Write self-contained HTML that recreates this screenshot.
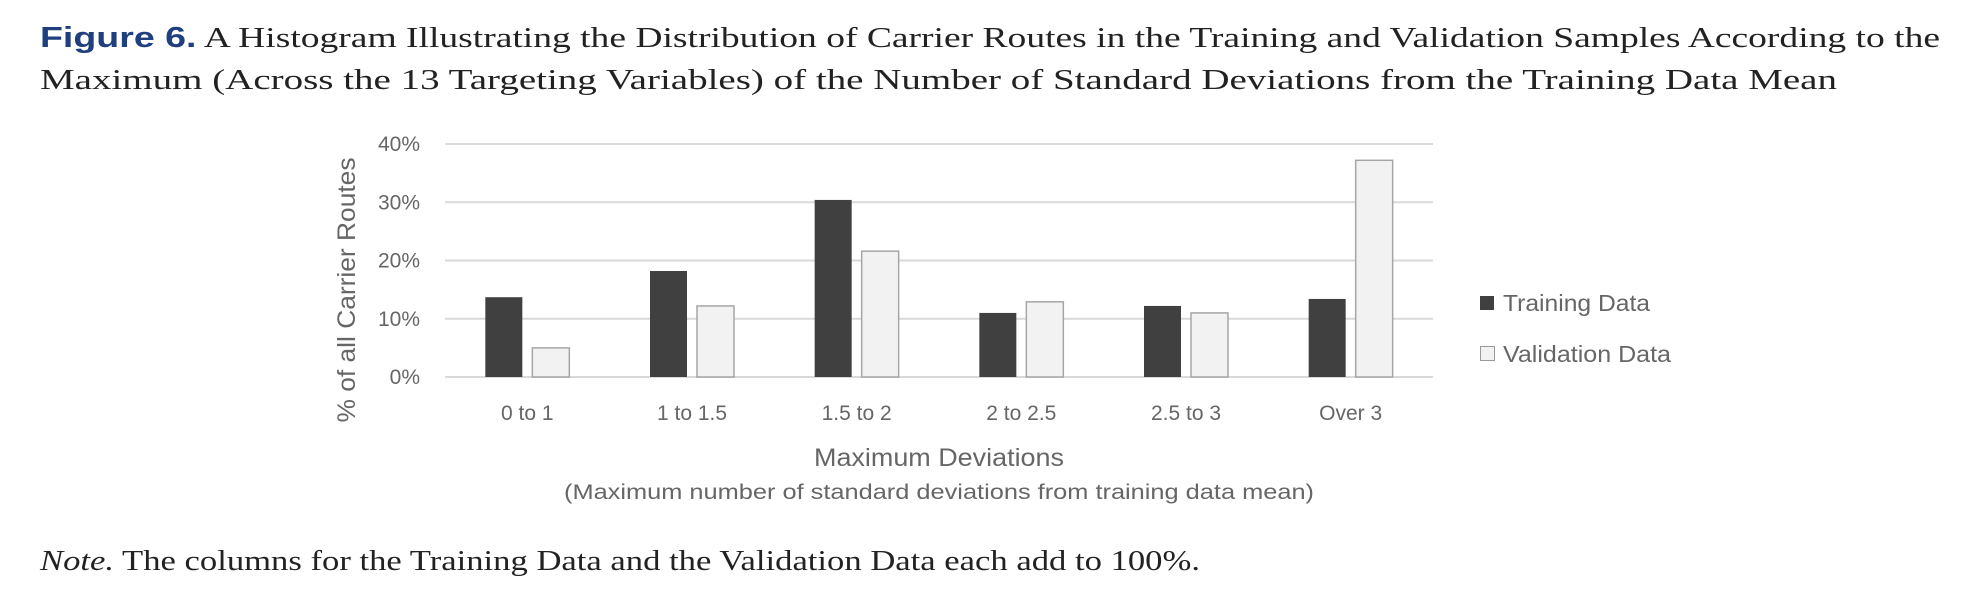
<!DOCTYPE html>
<html><head><meta charset="utf-8"><style>
html,body{margin:0;padding:0;background:#fff;}
svg{display:block;}
</style></head><body>
<svg id="fig" width="1976" height="592" xmlns="http://www.w3.org/2000/svg">
<g>
<text x="40" y="47" font-family="Liberation Serif, serif" font-size="29" fill="#222" textLength="1900" lengthAdjust="spacingAndGlyphs"><tspan font-family="Liberation Sans, sans-serif" font-weight="bold" fill="#1f3f7f">Figure 6.</tspan>  A Histogram Illustrating the Distribution of Carrier Routes in the Training and Validation Samples According to the</text>
<text x="40" y="89" font-family="Liberation Serif, serif" font-size="29" fill="#222" textLength="1797" lengthAdjust="spacingAndGlyphs">Maximum (Across the 13 Targeting Variables) of the Number of Standard Deviations from the Training Data Mean</text>
</g>
<g id="grid"></g>
<g id="yticks"></g>
<g id="bars"></g>
<g id="xticks"></g>
<text transform="translate(355,290) rotate(-90)" text-anchor="middle" font-family="Liberation Sans, sans-serif" font-size="25" fill="#666" textLength="265" lengthAdjust="spacingAndGlyphs">% of all Carrier Routes</text>
<text x="939" y="466" text-anchor="middle" font-family="Liberation Sans, sans-serif" font-size="25" fill="#666" textLength="250" lengthAdjust="spacingAndGlyphs">Maximum Deviations</text>
<text x="939" y="499" text-anchor="middle" font-family="Liberation Sans, sans-serif" font-size="21" fill="#666" textLength="750" lengthAdjust="spacingAndGlyphs">(Maximum number of standard deviations from training data mean)</text>
<g>
<rect x="1480" y="296" width="14" height="14" fill="#404040"/>
<text x="1503" y="311" font-family="Liberation Sans, sans-serif" font-size="23" fill="#666" textLength="147" lengthAdjust="spacingAndGlyphs">Training Data</text>
<rect x="1480.5" y="346.5" width="14" height="14" fill="#f2f2f2" stroke="#999" stroke-width="1"/>
<text x="1503" y="362" font-family="Liberation Sans, sans-serif" font-size="23" fill="#666" textLength="168" lengthAdjust="spacingAndGlyphs">Validation Data</text>
</g>
<text x="40" y="570" font-family="Liberation Serif, serif" font-size="28" fill="#222" textLength="1160" lengthAdjust="spacingAndGlyphs"><tspan font-style="italic">Note.</tspan> The columns for the Training Data and the Validation Data each add to 100%.</text>
</svg>
<script>
const categories = ["0 to 1","1 to 1.5","1.5 to 2","2 to 2.5","2.5 to 3","Over 3"];
const trainingValues = [13.7, 18.2, 30.4, 11.0, 12.2, 13.4];
const validationValues = [5.0, 12.2, 21.6, 12.9, 11.0, 37.2];
const yTicks = [0, 10, 20, 30, 40];
const yTickLabels = ["0%","10%","20%","30%","40%"];

const NS = "http://www.w3.org/2000/svg";
const plotL = 445, plotR = 1433, plotT = 144, plotB = 377, yMax = 40;
const y = v => plotB - (v / yMax) * (plotB - plotT);
const band = (plotR - plotL) / categories.length;
const xc = i => plotL + band * (i + 0.5);
function mk(tag, attrs, parent){const e=document.createElementNS(NS,tag);for(const k in attrs)e.setAttribute(k,attrs[k]);parent.appendChild(e);return e;}
const grid=document.getElementById('grid'), yt=document.getElementById('yticks'), bars=document.getElementById('bars'), xt=document.getElementById('xticks');
yTicks.forEach((t,i)=>{
  const l=mk('line',{x1:plotL,x2:plotR,y1:y(t),y2:y(t),stroke:'#d9d9d9','stroke-width':2},grid);
  
  
  const tx=mk('text',{x:420,y:y(t)+7,'text-anchor':'end','font-family':'Liberation Sans, sans-serif','font-size':21,fill:'#666'},yt);
  tx.textContent=yTickLabels[i];
  
  
});
const bw=37;
categories.forEach((c,i)=>{
  const cx=xc(i);
  const r1=mk('rect',{x:cx-42,y:y(trainingValues[i]),width:bw,height:y(0)-y(trainingValues[i]),fill:'#404040'},bars);
  
  
  const r2=mk('rect',{x:cx+5,y:y(validationValues[i]),width:bw,height:y(0)-y(validationValues[i]),fill:'#f2f2f2',stroke:'#a6a6a6','stroke-width':1.5},bars);
  
  
  const tx=mk('text',{x:cx,y:420,'text-anchor':'middle','font-family':'Liberation Sans, sans-serif','font-size':21,fill:'#666'},xt);
  tx.textContent=c;
  
  
});
</script>
</body></html>
